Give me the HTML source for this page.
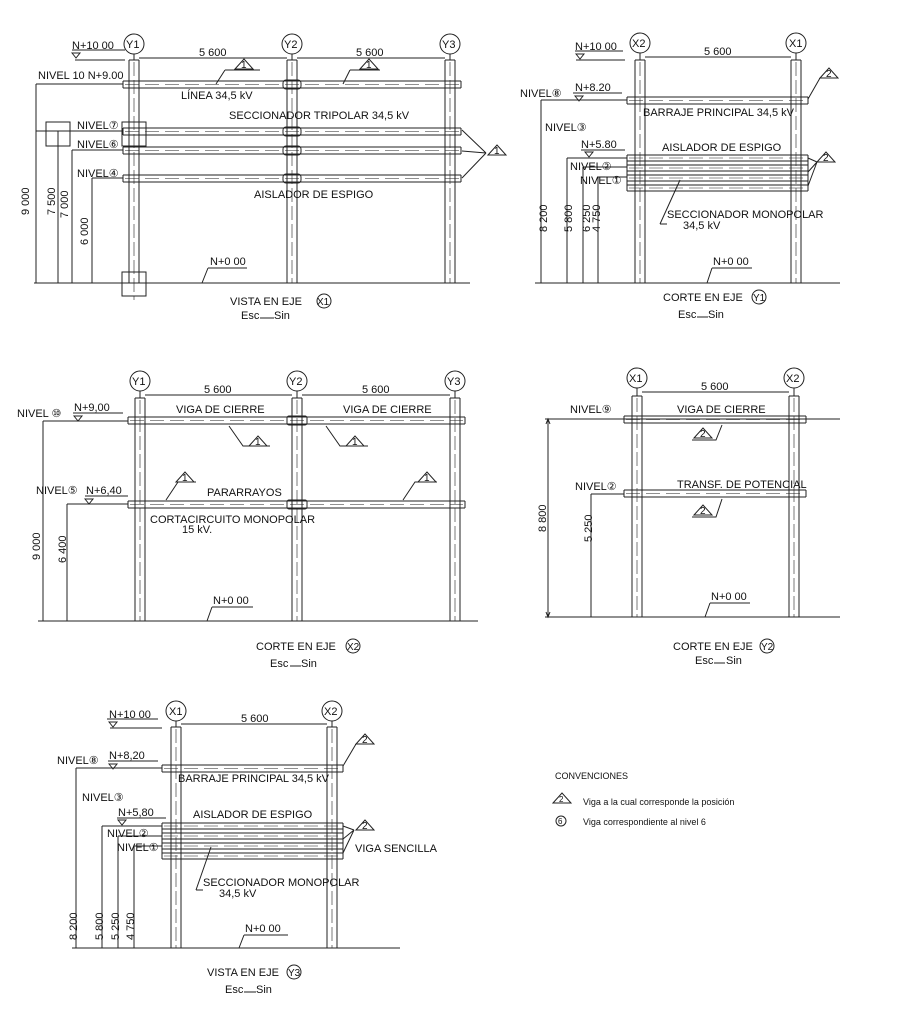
<!DOCTYPE html>
<html><head><meta charset="utf-8"><style>
html,body{margin:0;padding:0;background:#fff}
svg{display:block}
text{font-family:"Liberation Sans",sans-serif;font-size:11px;fill:#111;stroke:none}
.s{font-size:10px}
</style></head><body>
<svg width="900" height="1014" viewBox="0 0 900 1014" xmlns="http://www.w3.org/2000/svg" stroke="#222" fill="none" stroke-width="1">
<defs>
<g id="tri"><path d="M0 10 L9 0 L18 10 Z"/></g>
</defs>

<!-- ================= VIEW 1 ================= -->
<g>
<path d="M129 60V283M139 60V283M129 60H139 M287 60V283M297 60V283M287 60H297 M445 60V283M455 60V283M445 60H455"/>
<path d="M134 62V300M292 62V283M450 62V283" stroke-dasharray="14 4" stroke-width="0.6"/>
<path d="M123 81H461M123 88H461M123 81V88M461 81V88"/>
<path d="M123 128H461M123 135H461M123 128V135M461 128V135"/>
<path d="M123 147H461M123 154H461M123 147V154M461 147V154"/>
<path d="M123 175H461M123 182H461M123 175V182M461 175V182"/>
<path d="M125 84.5H459M125 131.5H459M125 150.5H459M125 178.5H459" stroke-dasharray="14 6" stroke-width="0.6"/>
<rect x="283" y="80" width="18" height="9" rx="3"/><rect x="283" y="127" width="18" height="9" rx="3"/>
<rect x="283" y="146" width="18" height="9" rx="3"/><rect x="283" y="174" width="18" height="9" rx="3"/>
<path d="M34 283H470"/>
<circle cx="134" cy="44" r="10"/><circle cx="292" cy="44" r="10"/><circle cx="450" cy="44" r="10"/>
<path d="M134 54V60M292 54V60M450 54V60"/>
<text x="126" y="48">Y1</text><text x="284" y="48">Y2</text><text x="442" y="48">Y3</text>
<path d="M139 58H287M297 58H445"/>
<text x="199" y="56">5 600</text><text x="356" y="56">5 600</text>
<path d="M72 50H125 M75 60H125" /><path d="M72 53L76 58L80 53Z"/>
<text x="72" y="49">N+10 00</text>
<text x="38" y="79">NIVEL 10 N+9.00</text>
<path d="M36 84H123M36 84V283M58 131V283M72 150V283M92 178V283 M72 150H123M92 178H123"/>
<path d="M36 131H123" />
<rect x="46" y="122" width="24" height="24"/><rect x="122" y="122" width="24" height="24"/><rect x="122" y="272" width="24" height="24"/>
<text x="77" y="129">NIVEL⑦</text><text x="77" y="148">NIVEL⑥</text><text x="77" y="177">NIVEL④</text>
<text transform="translate(29,215) rotate(-90)">9 000</text>
<text transform="translate(55,215) rotate(-90)">7 500</text>
<text transform="translate(68,218) rotate(-90)">7 000</text>
<text transform="translate(88,245) rotate(-90)">6 000</text>
<use href="#tri" x="235" y="59"/><text x="241" y="68" class="s">1</text><path d="M225 70L216 84M225 70H260"/>
<use href="#tri" x="360" y="59"/><text x="366" y="68" class="s">1</text><path d="M350 70L343 84M350 70H380"/>
<use href="#tri" x="488" y="145"/><text x="494" y="154" class="s">1</text><path d="M486 153L462 130M486 153L462 151M486 153L462 178"/>
<text x="181" y="99">LÍNEA 34,5 kV</text>
<text x="229" y="119">SECCIONADOR TRIPOLAR 34,5 kV</text>
<text x="254" y="198">AISLADOR DE ESPIGO</text>
<text x="210" y="265">N+0 00</text><path d="M208 268H247M208 268L202 283"/>
<text x="230" y="305">VISTA EN EJE</text><circle cx="324" cy="301" r="7"/><text x="317" y="305" class="s">X1</text>
<text x="241" y="319">Esc</text><path d="M260 318H274"/><text x="274" y="319">Sin</text>
</g>

<!-- ================= VIEW 2 ================= -->
<g>
<path d="M635 60V283M645 60V283M635 60H645 M791 60V283M801 60V283M791 60H801"/>
<path d="M640 62V283M796 62V283" stroke-dasharray="14 4" stroke-width="0.6"/>
<path d="M627 97H808M627 104H808M627 97V104M808 97V104"/>
<path d="M627 155H808M627 161H808M627 165H808M627 171H808M627 175H808M627 181H808M627 185H808M627 191H808M627 155V191M808 155V191"/>
<path d="M629 100.5H806M629 158H806M629 168H806M629 178H806M629 188H806" stroke-dasharray="14 6" stroke-width="0.6"/>
<path d="M535 283H840"/>
<circle cx="640" cy="43" r="10"/><circle cx="796" cy="43" r="10"/><path d="M640 53V60M796 53V60"/>
<text x="632" y="47">X2</text><text x="789" y="47">X1</text>
<path d="M645 57H791"/><text x="704" y="55">5 600</text>
<path d="M575 51H623M576 60H625"/><path d="M576 54L580 59L584 54Z"/><text x="575" y="50">N+10 00</text>
<text x="520" y="97">NIVEL⑧</text><text x="575" y="91">N+8.20</text><path d="M573 93H622"/><path d="M575 96L579 101L583 96Z"/>
<path d="M541 100H627M541 100V283"/>
<text x="545" y="131">NIVEL③</text>
<text x="581" y="148">N+5.80</text><path d="M581 150H625"/><path d="M585 152L589 157L593 152Z"/>
<path d="M567 158H627M567 158V283M583 167H627M583 167V283M598 177H627M598 177V283"/>
<text x="570" y="170">NIVEL②</text><text x="580" y="184">NIVEL①</text>
<text transform="translate(547,232) rotate(-90)">8 200</text>
<text transform="translate(572,232) rotate(-90)">5 800</text>
<text transform="translate(590,232) rotate(-90)">6 250</text>
<text transform="translate(600,232) rotate(-90)">4 750</text>
<use href="#tri" x="820" y="68"/><text x="826" y="77" class="s">2</text><path d="M820 78L808 99"/>
<use href="#tri" x="817" y="152"/><text x="823" y="161" class="s">2</text><path d="M817 162L808 158M817 162L808 172M817 162L808 186"/>
<text x="643" y="116">BARRAJE PRINCIPAL 34,5 kV</text>
<text x="662" y="151">AISLADOR DE ESPIGO</text>
<text x="667" y="218">SECCIONADOR MONOPOLAR</text><text x="683" y="229">34,5 kV</text>
<path d="M660 224L680 180M660 224H667"/>
<text x="713" y="265">N+0 00</text><path d="M712 268H752M712 268L707 283"/>
<text x="663" y="301">CORTE EN EJE</text><circle cx="759" cy="297" r="7"/><text x="753" y="301" class="s">Y1</text>
<text x="678" y="318">Esc</text><path d="M697 317H708"/><text x="708" y="318">Sin</text>
</g>

<!-- ================= VIEW 3 ================= -->
<g>
<path d="M135 398V621M145 398V621M135 398H145 M292 398V621M302 398V621M292 398H302 M450 398V621M460 398V621M450 398H460"/>
<path d="M140 400V621M297 400V621M455 400V621" stroke-dasharray="14 4" stroke-width="0.6"/>
<path d="M128 417H465M128 424H465M128 417V424M465 417V424"/>
<path d="M128 501H465M128 508H465M128 501V508M465 501V508"/>
<path d="M130 420.5H463M130 504.5H463" stroke-dasharray="14 6" stroke-width="0.6"/>
<rect x="287" y="416" width="20" height="9" rx="2"/><rect x="287" y="500" width="20" height="9" rx="2"/>
<path d="M38 621H478"/>
<circle cx="140" cy="381" r="10"/><circle cx="297" cy="381" r="10"/><circle cx="455" cy="381" r="10"/>
<path d="M140 391V398M297 391V398M455 391V398"/>
<text x="132" y="385">Y1</text><text x="289" y="385">Y2</text><text x="447" y="385">Y3</text>
<path d="M145 395H292M302 395H450"/><text x="204" y="393">5 600</text><text x="362" y="393">5 600</text>
<text x="17" y="417">NIVEL ⑩</text><text x="74" y="411">N+9,00</text><path d="M73 413H123"/><path d="M74 416L78 421L82 416Z"/>
<path d="M43 421H128M43 421V621"/>
<text x="36" y="494">NIVEL⑤</text><text x="86" y="494">N+6,40</text><path d="M85 496H128"/><path d="M85 499L89 504L93 499Z"/>
<path d="M67 504H128M67 504V621"/>
<text transform="translate(40,560) rotate(-90)">9 000</text>
<text transform="translate(66,563) rotate(-90)">6 400</text>
<text x="176" y="413">VIGA DE CIERRE</text><text x="343" y="413">VIGA DE CIERRE</text>
<use href="#tri" x="249" y="436"/><text x="255" y="445" class="s">1</text><path d="M229 426L243 446H270"/>
<use href="#tri" x="346" y="436"/><text x="352" y="445" class="s">1</text><path d="M326 426L340 446H368"/>
<use href="#tri" x="176" y="472"/><text x="182" y="481" class="s">1</text><path d="M166 500L178 482H196"/>
<use href="#tri" x="418" y="472"/><text x="424" y="481" class="s">1</text><path d="M403 500L415 482H437"/>
<text x="207" y="496">PARARRAYOS</text>
<text x="150" y="523">CORTACIRCUITO MONOPOLAR</text><text x="182" y="533">15 kV.</text>
<text x="213" y="604">N+0 00</text><path d="M212 607H253M212 607L207 621"/>
<text x="256" y="650">CORTE EN EJE</text><circle cx="353" cy="646" r="7"/><text x="347" y="650" class="s">X2</text>
<text x="270" y="667">Esc</text><path d="M290 666H301"/><text x="301" y="667">Sin</text>
</g>

<!-- ================= VIEW 4 ================= -->
<g>
<path d="M632 396V617M642 396V617M632 396H642 M789 396V617M799 396V617M789 396H799"/>
<path d="M637 398V617M794 398V617" stroke-dasharray="14 4" stroke-width="0.6"/>
<path d="M624 416H806M624 423H806M624 416V423M806 416V423"/>
<path d="M624 490H806M624 497H806M624 490V497M806 490V497"/>
<path d="M626 419.5H804M626 493.5H804" stroke-dasharray="14 6" stroke-width="0.6"/>
<path d="M545 419H840M545 617H840"/>
<path d="M548 419V617"/><path d="M546 424L548 419L550 424M546 612L548 617L550 612"/>
<path d="M591 494H624M591 494V617"/>
<circle cx="637" cy="378" r="10"/><circle cx="794" cy="378" r="10"/><path d="M637 388V396M794 388V396"/>
<text x="629" y="382">X1</text><text x="786" y="382">X2</text>
<path d="M642 392H789"/><text x="701" y="390">5 600</text>
<text x="570" y="413">NIVEL⑨</text><text x="575" y="490">NIVEL②</text>
<text transform="translate(546,532) rotate(-90)">8 800</text>
<text transform="translate(592,542) rotate(-90)">5 250</text>
<text x="677" y="413">VIGA DE CIERRE</text><text x="677" y="488">TRANSF. DE POTENCIAL</text>
<use href="#tri" x="694" y="428"/><text x="700" y="437" class="s">2</text><path d="M692 440H716L722 425"/>
<use href="#tri" x="694" y="505"/><text x="700" y="514" class="s">2</text><path d="M692 517H716L722 499"/>
<text x="711" y="600">N+0 00</text><path d="M710 603H750M710 603L705 617"/>
<text x="673" y="650">CORTE EN EJE</text><circle cx="767" cy="646" r="7"/><text x="761" y="650" class="s">Y2</text>
<text x="695" y="664">Esc</text><path d="M714 663H725"/><text x="726" y="664">Sin</text>
</g>

<!-- ================= VIEW 5 ================= -->
<g>
<path d="M171 727V948M181 727V948M171 727H181 M327 727V948M337 727V948M327 727H337"/>
<path d="M176 729V948M332 729V948" stroke-dasharray="14 4" stroke-width="0.6"/>
<path d="M162 765H343M162 772H343M162 765V772M343 765V772"/>
<path d="M162 823H343M162 829H343M162 833H343M162 839H343M162 843H343M162 849H343M162 853H343M162 859H343M162 823V859M343 823V859"/>
<path d="M164 768.5H341M164 826H341M164 836H341M164 846H341M164 856H341" stroke-dasharray="14 6" stroke-width="0.6"/>
<path d="M72 948H400"/>
<circle cx="176" cy="711" r="10"/><circle cx="332" cy="711" r="10"/><path d="M176 721V727M332 721V727"/>
<text x="169" y="715">X1</text><text x="324" y="715">X2</text>
<path d="M181 724H327"/><text x="241" y="722">5 600</text>
<path d="M107 719H158M110 728H162"/><path d="M109 722L113 727L117 722Z"/><text x="109" y="718">N+10 00</text>
<text x="57" y="764">NIVEL⑧</text><text x="109" y="759">N+8,20</text><path d="M108 761H158"/><path d="M109 764L113 769L117 764Z"/>
<path d="M76 768H162M76 768V948"/>
<text x="82" y="801">NIVEL③</text>
<text x="118" y="816">N+5,80</text><path d="M117 818H166"/><path d="M118 820L122 825L126 820Z"/>
<path d="M102 826H162M102 826V948M118 836H162M118 836V948M134 846H162M134 846V948"/>
<text x="107" y="837">NIVEL②</text><text x="117" y="851">NIVEL①</text>
<text transform="translate(77,940) rotate(-90)">8 200</text>
<text transform="translate(103,940) rotate(-90)">5 800</text>
<text transform="translate(119,940) rotate(-90)">5 250</text>
<text transform="translate(134,940) rotate(-90)">4 750</text>
<use href="#tri" x="356" y="734"/><text x="362" y="743" class="s">2</text><path d="M356 744L343 766"/>
<use href="#tri" x="356" y="820"/><text x="362" y="829" class="s">2</text><path d="M354 830L343 826M354 830L343 839M354 830L343 853"/>
<text x="355" y="852">VIGA SENCILLA</text>
<text x="178" y="782">BARRAJE PRINCIPAL 34,5 kV</text>
<text x="193" y="818">AISLADOR DE ESPIGO</text>
<text x="203" y="886">SECCIONADOR MONOPOLAR</text><text x="219" y="897">34,5 kV</text>
<path d="M196 890L211 847M196 890H203"/>
<text x="245" y="932">N+0 00</text><path d="M244 935H288M244 935L239 948"/>
<text x="207" y="976">VISTA EN EJE</text><circle cx="294" cy="972" r="7"/><text x="288" y="976" class="s">Y3</text>
<text x="225" y="993">Esc</text><path d="M244 992H256"/><text x="256" y="993">Sin</text>
</g>

<!-- Conventions -->
<text x="555" y="779" style="font-size:9px">CONVENCIONES</text>
<use href="#tri" x="553" y="793"/><text x="559" y="802" style="font-size:8px">2</text>
<text x="583" y="805" style="font-size:9px">Viga a la cual corresponde la posición</text>
<circle cx="561" cy="821" r="5"/><text x="558" y="824" style="font-size:8px">6</text>
<text x="583" y="825" style="font-size:9px">Viga correspondiente al nivel 6</text>
</svg>
</body></html>
